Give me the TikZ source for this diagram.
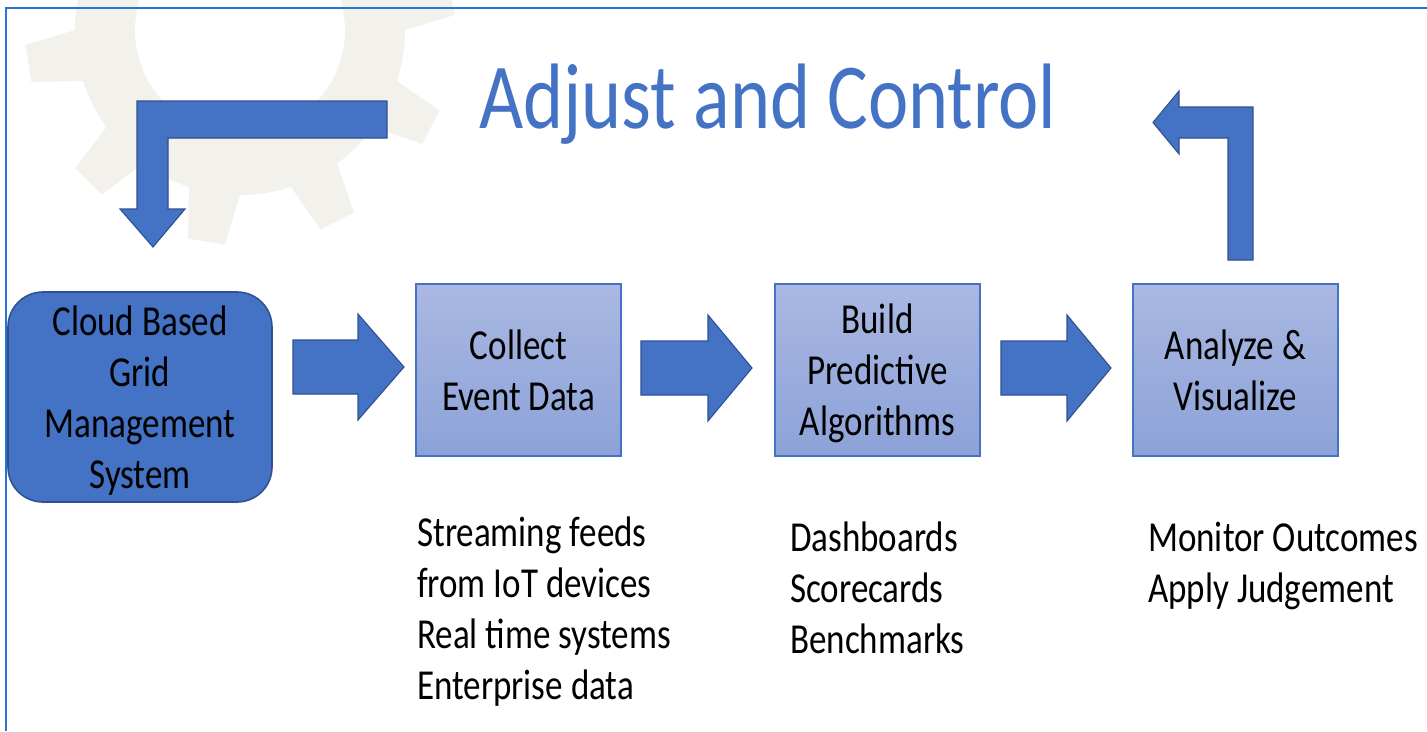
\documentclass[tikz,border=0pt]{standalone}
\usepackage{fontspec}
\newfontfamily\calfont[FakeStretch=0.82]{Carlito}
\newcommand\bodyfnt{\calfont\fontsize{42.7}{51}\selectfont}
\newcommand\titlefnt{\calfont\fontsize{93}{110}\selectfont}
\usetikzlibrary{calc}
\definecolor{accent}{RGB}{68,114,196}
\definecolor{accentdark}{RGB}{47,82,143}
\definecolor{boxtop}{RGB}{170,184,226}
\definecolor{boxbot}{RGB}{140,162,216}
\definecolor{framecol}{RGB}{40,116,212}
\definecolor{gearcol}{RGB}{243,241,236}
\begin{document}
\begin{tikzpicture}[x=1pt,y=-1pt,
  stepbox/.style={draw=accent, line width=1.2pt, top color=boxtop, bottom color=boxbot,
    minimum width=205pt, minimum height=172pt, inner sep=0pt},
  cloudbox/.style={draw=accentdark, line width=1.6pt, fill=accent, rounded corners=35pt,
    minimum width=264pt, minimum height=210pt, inner sep=0pt},
  boxtext/.style={align=center, inner sep=0pt, font=\bodyfnt},
  blockarrow/.style={fill=accent, draw=accentdark, line width=1.1pt, line join=miter},
  listtext/.style={align=left, inner sep=0pt, font=\bodyfnt, anchor=north west}]
\useasboundingbox (0,0) rectangle (1427,731);
\fill[white] (0,0) rectangle (1427,731);
% watermark gear
\begin{scope}
\clip (0,0) rectangle (520,245);
\fill[gearcol, even odd rule, shift={(240,30)}] (0:165)
  \foreach \i in {0,...,9}{ arc[start angle=\i*36, end angle=\i*36+18, radius=165]
    -- ({\i*36+22}:215) -- ({\i*36+32}:215) -- ({\i*36+36}:165) } -- cycle
  (0,0) circle[radius=105];
\end{scope}
% frame
\draw[framecol, line width=2pt] (1427,8) -- (6,8) -- (6,731);
% title
\node[text=accent, anchor=base, font=\titlefnt, inner sep=0pt] (title) at (768,128) {Adjust and Control};
% boxes
\node[cloudbox] (cloud) at (140,397) {};
\node[stepbox] (collect) at (518.5,370) {};
\node[stepbox] (build) at (877.5,370) {};
\node[stepbox] (analyze) at (1235.5,370) {};
\node[boxtext] (cloudtxt) at ($(cloud.center)+(0,4)$) {Cloud Based\\Grid\\Management\\System};
\node[boxtext] (collecttxt) at ($(collect.center)+(0,0)$) {Collect\\Event Data};
\node[boxtext] (buildtxt) at ($(build.center)+(0,3)$) {Build\\Predictive\\Algorithms};
\node[boxtext] (analyzetxt) at ($(analyze.center)+(0,0)$) {Analyze \&\\Visualize};
% block arrows
\draw[blockarrow] (293,340) -- (358,340) -- (358,314) -- (404,367) -- (358,420) -- (358,394) -- (293,394) -- cycle;
\draw[blockarrow] (641,341) -- (708,341) -- (708,315) -- (752,368) -- (708,421) -- (708,395) -- (641,395) -- cycle;
\draw[blockarrow] (1001,341) -- (1067,341) -- (1067,315) -- (1111,368) -- (1067,421) -- (1067,395) -- (1001,395) -- cycle;
% feedback bent arrows
\draw[blockarrow] (387,101) -- (137,101) -- (137,209) -- (120,209) -- (153,247) -- (185,209) -- (168,209) -- (168,138) -- (387,138) -- cycle;
\draw[blockarrow] (1253,260) -- (1253,107) -- (1179,107) -- (1179,91) -- (1153,122.5) -- (1179,154) -- (1179,138) -- (1228,138) -- (1228,260) -- cycle;
% lists
\node[listtext] (l1) at (417,517) {Streaming feeds\\from IoT devices\\Real time systems\\Enterprise data};
\node[listtext] (l2) at (790,522) {Dashboards\\Scorecards\\Benchmarks};
\node[listtext] (l3) at (1148,522) {Monitor Outcomes\\Apply Judgement};
\end{tikzpicture}
\end{document}
